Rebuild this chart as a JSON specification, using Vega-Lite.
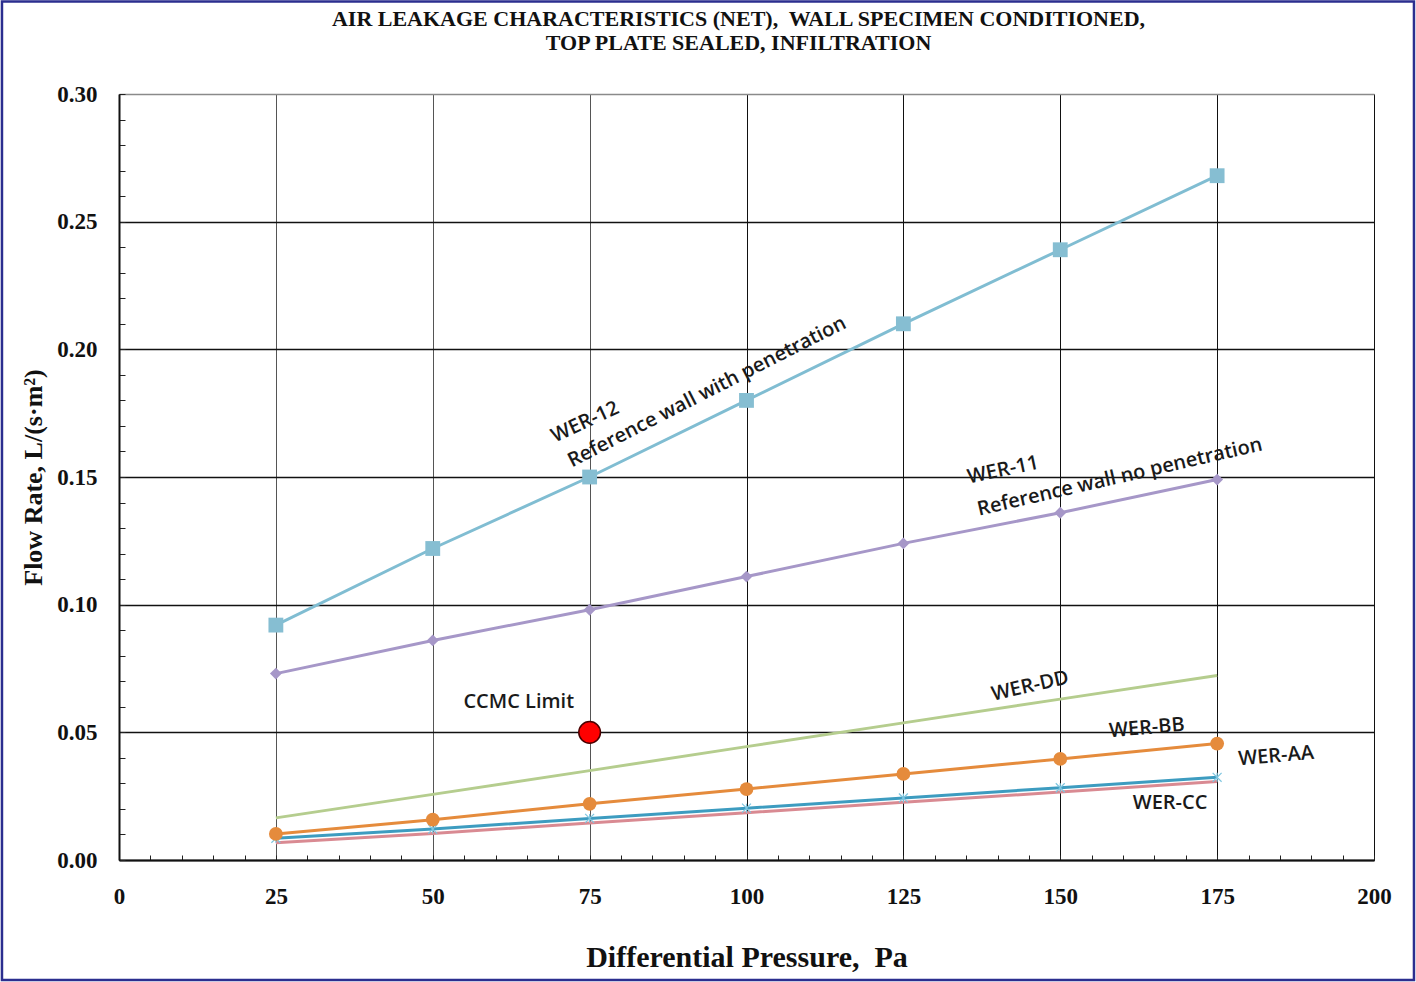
{
  "$schema": "https://vega.github.io/schema/vega-lite/v6.json",
  "width": 1255,
  "height": 766,
  "autosize": {"type": "none"},
  "padding": {"left": 119, "top": 94, "right": 42, "bottom": 122},
  "background": "white",
  "config": {
    "view": {"stroke": "#8a8a8a", "strokeWidth": 1},
    "font": "Liberation Serif"
  },
  "title": {
    "text": ["AIR LEAKAGE CHARACTERISTICS (NET),\u00a0 WALL SPECIMEN CONDITIONED,", "TOP PLATE SEALED, INFILTRATION"],
    "font": "Liberation Serif",
    "fontSize": 22,
    "fontWeight": "bold",
    "color": "#111111",
    "lineHeight": 24,
    "offset": -55,
    "dx": -8,
    "anchor": "middle",
    "frame": "group"
  },
  "datasets": {
    "flow": [
      {"series": "WER-12", "p": 25, "q": 0.092},
      {"series": "WER-12", "p": 50, "q": 0.122},
      {"series": "WER-12", "p": 75, "q": 0.150},
      {"series": "WER-12", "p": 100, "q": 0.180},
      {"series": "WER-12", "p": 125, "q": 0.210},
      {"series": "WER-12", "p": 150, "q": 0.239},
      {"series": "WER-12", "p": 175, "q": 0.268},
      {"series": "WER-11", "p": 25, "q": 0.073},
      {"series": "WER-11", "p": 50, "q": 0.086},
      {"series": "WER-11", "p": 75, "q": 0.098},
      {"series": "WER-11", "p": 100, "q": 0.111},
      {"series": "WER-11", "p": 125, "q": 0.124},
      {"series": "WER-11", "p": 150, "q": 0.136},
      {"series": "WER-11", "p": 175, "q": 0.149},
      {"series": "WER-DD", "p": 25, "q": 0.0165},
      {"series": "WER-DD", "p": 50, "q": 0.0257},
      {"series": "WER-DD", "p": 75, "q": 0.035},
      {"series": "WER-DD", "p": 100, "q": 0.0444},
      {"series": "WER-DD", "p": 125, "q": 0.0537},
      {"series": "WER-DD", "p": 150, "q": 0.063},
      {"series": "WER-DD", "p": 175, "q": 0.0723},
      {"series": "WER-CC", "p": 25, "q": 0.0068},
      {"series": "WER-CC", "p": 50, "q": 0.0104},
      {"series": "WER-CC", "p": 75, "q": 0.0145},
      {"series": "WER-CC", "p": 100, "q": 0.0185},
      {"series": "WER-CC", "p": 125, "q": 0.0226},
      {"series": "WER-CC", "p": 150, "q": 0.0266},
      {"series": "WER-CC", "p": 175, "q": 0.0307},
      {"series": "WER-AA", "p": 25, "q": 0.0085},
      {"series": "WER-AA", "p": 50, "q": 0.0121},
      {"series": "WER-AA", "p": 75, "q": 0.0163},
      {"series": "WER-AA", "p": 100, "q": 0.0203},
      {"series": "WER-AA", "p": 125, "q": 0.0243},
      {"series": "WER-AA", "p": 150, "q": 0.0283},
      {"series": "WER-AA", "p": 175, "q": 0.0324},
      {"series": "WER-BB", "p": 25, "q": 0.0102},
      {"series": "WER-BB", "p": 50, "q": 0.0158},
      {"series": "WER-BB", "p": 75, "q": 0.022},
      {"series": "WER-BB", "p": 100, "q": 0.0278},
      {"series": "WER-BB", "p": 125, "q": 0.0337},
      {"series": "WER-BB", "p": 150, "q": 0.0396},
      {"series": "WER-BB", "p": 175, "q": 0.0456}
    ]
  },
  "layer": [
    {
      "data": {"values": [{"p": -18.65, "p2": 206.37, "q": 0.3362, "q2": -0.0470}]},
      "mark": {"type": "rect", "fill": null, "fillOpacity": 0, "stroke": "#2B2E8F", "strokeWidth": 2.5, "clip": false},
      "encoding": {
        "x": {"field": "p", "type": "quantitative"},
        "x2": {"field": "p2"},
        "y": {"field": "q", "type": "quantitative"},
        "y2": {"field": "q2"}
      }
    },
    {
      "data": {"name": "flow"},
      "mark": {"type": "line", "strokeWidth": 3},
      "encoding": {
        "x": {
          "field": "p", "type": "quantitative",
          "scale": {"domain": [0, 200], "nice": false, "zero": false},
          "axis": {
            "title": "Differential Pressure,\u00a0\u00a0Pa",
            "titleFont": "Liberation Serif", "titleFontSize": 30, "titleFontWeight": "bold", "titleColor": "#111111",
            "titlePadding": 34,
            "values": [0,5,10,15,20,25,30,35,40,45,50,55,60,65,70,75,80,85,90,95,100,105,110,115,120,125,130,135,140,145,150,155,160,165,170,175,180,185,190,195,200],
            "tickCount": 200,
            "labelExpr": "datum.value % 25 === 0 ? datum.label : ''",
            "labelOverlap": false, "labelFlush": false,
            "labelFont": "Liberation Serif", "labelFontSize": 23, "labelFontWeight": "bold", "labelColor": "#111111",
            "labelPadding": 30,
            "tickSize": -5, "tickColor": "#222222", "tickWidth": 1,
            "domainColor": "#111111", "domainWidth": 2,
            "grid": true,
            "gridColor": {"condition": {"test": "datum.value >= 100", "value": "#111111"}, "value": "#555555"},
            "gridWidth": 1,
            "gridOpacity": {"condition": {"test": "datum.value % 25 === 0", "value": 1}, "value": 0}
          }
        },
        "y": {
          "field": "q", "type": "quantitative",
          "scale": {"domain": [0, 0.3], "nice": false, "zero": false},
          "axis": {
            "title": "Flow Rate, L/(s·m²)",
            "titleFont": "Liberation Serif", "titleFontSize": 26, "titleFontWeight": "bold", "titleColor": "#111111",
            "titlePadding": 10,
            "values": [0,0.01,0.02,0.03,0.04,0.05,0.06,0.07,0.08,0.09,0.1,0.11,0.12,0.13,0.14,0.15,0.16,0.17,0.18,0.19,0.2,0.21,0.22,0.23,0.24,0.25,0.26,0.27,0.28,0.29,0.3],
            "tickCount": 200,
            "format": ".2f",
            "labelExpr": "round(datum.value * 100) % 5 === 0 ? datum.label : ''",
            "labelOverlap": false, "labelFlush": false,
            "labelFont": "Liberation Serif", "labelFontSize": 23, "labelFontWeight": "bold", "labelColor": "#111111",
            "labelPadding": 28,
            "tickSize": -6, "tickColor": "#222222", "tickWidth": 1,
            "domainColor": "#111111", "domainWidth": 2,
            "grid": true,
            "gridColor": {"condition": {"test": "datum.value > 0.29", "value": "#8a8a8a"}, "value": "#111111"},
            "gridWidth": 1.5,
            "gridOpacity": {"condition": {"test": "round(datum.value * 100) % 5 === 0", "value": 1}, "value": 0}
          }
        },
        "color": {
          "field": "series", "type": "nominal", "legend": null,
          "scale": {
            "domain": ["WER-12", "WER-11", "WER-DD", "WER-BB", "WER-AA", "WER-CC"],
            "range": ["#80BDD2", "#A697C8", "#B5CD8E", "#E58B3C", "#3D9CC0", "#D98A92"]
          }
        },
        "detail": {"field": "series"}
      }
    },
    {
      "data": {"name": "flow"},
      "transform": [{"filter": "datum.series === 'WER-12'"}],
      "mark": {"type": "point", "shape": "square", "filled": true, "size": 220, "opacity": 1, "color": "#86BED2"},
      "encoding": {
        "x": {"field": "p", "type": "quantitative"},
        "y": {"field": "q", "type": "quantitative"}
      }
    },
    {
      "data": {"name": "flow"},
      "transform": [{"filter": "datum.series === 'WER-11'"}],
      "mark": {"type": "point", "shape": "diamond", "filled": true, "size": 140, "opacity": 1, "color": "#A697C8"},
      "encoding": {
        "x": {"field": "p", "type": "quantitative"},
        "y": {"field": "q", "type": "quantitative"}
      }
    },
    {
      "data": {"name": "flow"},
      "transform": [{"filter": "datum.series === 'WER-AA'"}],
      "mark": {"type": "point", "shape": "M -1 -1 L 1 1 M -1 1 L 1 -1 M 0 -1 L 0 1", "filled": false, "size": 80, "strokeWidth": 1.2, "opacity": 1, "color": "#7FC6E0"},
      "encoding": {
        "x": {"field": "p", "type": "quantitative"},
        "y": {"field": "q", "type": "quantitative"}
      }
    },
    {
      "data": {"name": "flow"},
      "transform": [{"filter": "datum.series === 'WER-BB'"}],
      "mark": {"type": "point", "shape": "circle", "filled": true, "size": 190, "opacity": 1, "color": "#E58B3C"},
      "encoding": {
        "x": {"field": "p", "type": "quantitative"},
        "y": {"field": "q", "type": "quantitative"}
      }
    },
    {
      "data": {"values": [{"label": "CCMC Limit", "p": 75, "q": 0.05}]},
      "mark": {"type": "point", "shape": "circle", "filled": true, "size": 470, "opacity": 1, "fill": "#FF0000", "stroke": "#4a0000", "strokeWidth": 1.5},
      "encoding": {
        "x": {"field": "p", "type": "quantitative"},
        "y": {"field": "q", "type": "quantitative"}
      }
    },
    {
      "data": {"values": [{"t": "WER-12", "p": 74.3, "q": 0.1715}]},
      "mark": {"type": "text", "font": "Open Sans", "fontSize": 20, "fontWeight": 600, "color": "#1a1a1a", "angle": 335, "align": "center", "baseline": "middle"},
      "encoding": {"x": {"field": "p", "type": "quantitative"}, "y": {"field": "q", "type": "quantitative"}, "text": {"field": "t"}}
    },
    {
      "data": {"values": [{"t": "Reference wall with penetration", "p": 93.7, "q": 0.1833}]},
      "mark": {"type": "text", "font": "Open Sans", "fontSize": 20, "fontWeight": 600, "color": "#1a1a1a", "angle": 333, "align": "center", "baseline": "middle"},
      "encoding": {"x": {"field": "p", "type": "quantitative"}, "y": {"field": "q", "type": "quantitative"}, "text": {"field": "t"}}
    },
    {
      "data": {"values": [{"t": "WER-11", "p": 140.9, "q": 0.1527}]},
      "mark": {"type": "text", "font": "Open Sans", "fontSize": 20, "fontWeight": 600, "color": "#1a1a1a", "angle": 348, "align": "center", "baseline": "middle"},
      "encoding": {"x": {"field": "p", "type": "quantitative"}, "y": {"field": "q", "type": "quantitative"}, "text": {"field": "t"}}
    },
    {
      "data": {"values": [{"t": "Reference wall no penetration", "p": 159.5, "q": 0.150}]},
      "mark": {"type": "text", "font": "Open Sans", "fontSize": 20, "fontWeight": 600, "color": "#1a1a1a", "angle": 347, "align": "center", "baseline": "middle"},
      "encoding": {"x": {"field": "p", "type": "quantitative"}, "y": {"field": "q", "type": "quantitative"}, "text": {"field": "t"}}
    },
    {
      "data": {"values": [{"t": "WER-DD", "p": 145.2, "q": 0.0681}]},
      "mark": {"type": "text", "font": "Open Sans", "fontSize": 20, "fontWeight": 600, "color": "#1a1a1a", "angle": 347, "align": "center", "baseline": "middle"},
      "encoding": {"x": {"field": "p", "type": "quantitative"}, "y": {"field": "q", "type": "quantitative"}, "text": {"field": "t"}}
    },
    {
      "data": {"values": [{"t": "WER-BB", "p": 163.8, "q": 0.0517}, {"t": "WER-AA", "p": 184.4, "q": 0.0407}]},
      "mark": {"type": "text", "font": "Open Sans", "fontSize": 20, "fontWeight": 600, "color": "#1a1a1a", "angle": 355, "align": "center", "baseline": "middle"},
      "encoding": {"x": {"field": "p", "type": "quantitative"}, "y": {"field": "q", "type": "quantitative"}, "text": {"field": "t"}}
    },
    {
      "data": {"values": [{"t": "WER-CC", "p": 167.5, "q": 0.0223}, {"t": "CCMC Limit", "p": 63.7, "q": 0.0619}]},
      "mark": {"type": "text", "font": "Open Sans", "fontSize": 20, "fontWeight": 600, "color": "#1a1a1a", "angle": 0, "align": "center", "baseline": "middle"},
      "encoding": {"x": {"field": "p", "type": "quantitative"}, "y": {"field": "q", "type": "quantitative"}, "text": {"field": "t"}}
    }
  ]
}
